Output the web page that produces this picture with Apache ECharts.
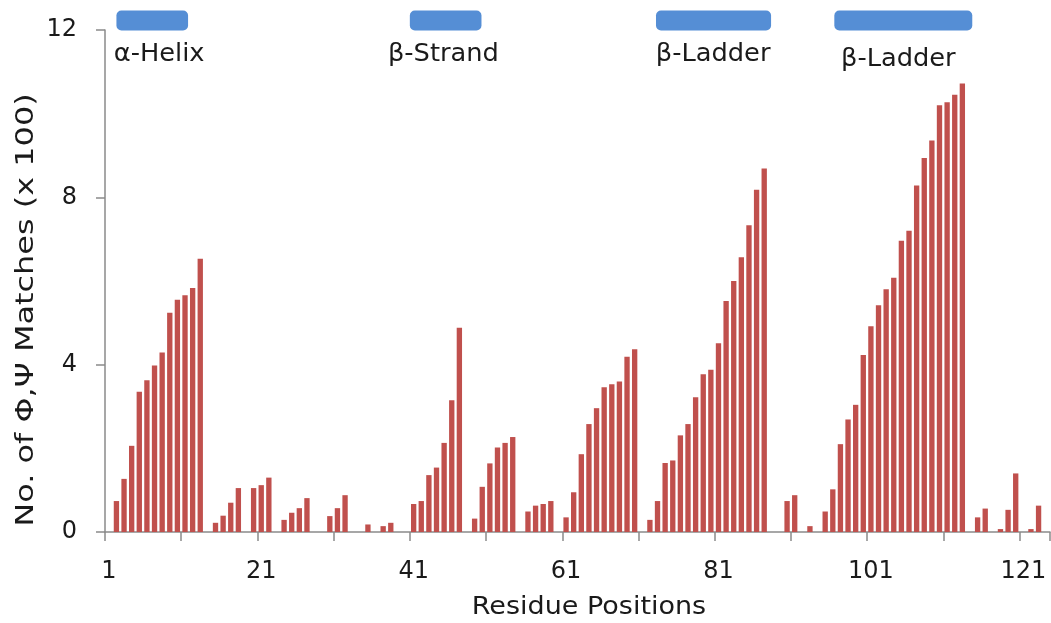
<!DOCTYPE html>
<html>
<head>
<meta charset="utf-8">
<script src="https://cdn.jsdelivr.net/npm/echarts@6/dist/echarts.min.js"></script>
<style>
html,body{margin:0;padding:0;background:#fff;}
#c{width:1051px;height:623px;}
</style>
</head>
<body>
<div id="c"></div>
<script>
// Residue positions 1..124 (category axis)
const residueCount = 124;
const residues = [];
for (let i = 1; i <= residueCount; i++) residues.push(String(i));

// No. of phi,psi matches (x 100), residues 1..124
const matches = [
  0, 0.74, 1.27, 2.06, 3.35, 3.63, 3.98, 4.29, 5.24, 5.55,
  5.66, 5.83, 6.53, 0, 0.22, 0.39, 0.70, 1.05, 0, 1.05,
  1.12, 1.30, 0, 0.29, 0.46, 0.57, 0.81, 0, 0, 0.38,
  0.57, 0.88, 0, 0, 0.18, 0, 0.14, 0.22, 0, 0,
  0.67, 0.74, 1.36, 1.54, 2.13, 3.15, 4.88, 0, 0.32, 1.08,
  1.64, 2.02, 2.13, 2.27, 0, 0.49, 0.63, 0.67, 0.74, 0,
  0.35, 0.95, 1.86, 2.58, 2.96, 3.46, 3.53, 3.60, 4.19, 4.37,
  0, 0.29, 0.74, 1.65, 1.71, 2.31, 2.58, 3.22, 3.77, 3.88,
  4.51, 5.52, 6.00, 6.57, 7.33, 8.18, 8.69, 0, 0, 0.74,
  0.88, 0, 0.14, 0, 0.49, 1.02, 2.10, 2.69, 3.04, 4.23,
  4.92, 5.42, 5.80, 6.08, 6.96, 7.20, 8.28, 8.94, 9.36, 10.20,
  10.27, 10.45, 10.72, 0, 0.35, 0.56, 0, 0.07, 0.53, 1.40,
  0, 0.07, 0.63, 0
];

// Y tick values
const yTicks = [0, 4, 8, 12];

// Secondary-structure annotations (residue spans, label centre residue)
const structNames = ['α-Helix', 'β-Strand', 'β-Ladder', 'β-Ladder'];
const structStart = [2.5, 41, 73.3, 96.7];
const structEnd = [11.9, 50.4, 88.4, 114.8];
const structLabelAt = [7.6, 44.9, 80.3, 104.6];

const FONT = 'DejaVu Sans';
const AXIS_COLOR = '#8a8a8a';
const TEXT_COLOR = '#1a1a1a';

const chart = echarts.init(document.getElementById('c'), null, {renderer: 'canvas'});

const option = {
  animation: false,
  backgroundColor: '#ffffff',
  grid: {left: 105, right: 1, top: 30, bottom: 91, containLabel: false},
  xAxis: {
    type: 'category',
    data: residues,
    boundaryGap: true,
    axisLine: {lineStyle: {color: AXIS_COLOR, width: 1.5}},
    axisTick: {show: true, interval: 9, length: 9, alignWithLabel: false, lineStyle: {color: AXIS_COLOR, width: 1.5}},
    axisLabel: {interval: 19, margin: 28, fontSize: 24, fontFamily: FONT, color: TEXT_COLOR},
    splitLine: {show: false}
  },
  yAxis: {
    type: 'value',
    min: yTicks[0],
    max: yTicks[yTicks.length - 1],
    interval: yTicks[1] - yTicks[0],
    axisLine: {show: true, lineStyle: {color: AXIS_COLOR, width: 1.5}},
    axisTick: {show: true, length: 9, lineStyle: {color: AXIS_COLOR, width: 1.5}},
    axisLabel: {margin: 28, fontSize: 24, fontFamily: FONT, color: TEXT_COLOR},
    splitLine: {show: false}
  },
  series: [{
    type: 'bar',
    data: matches,
    barWidth: '70%',
    itemStyle: {color: '#C0504D', borderWidth: 0}
  }]
};
chart.setOption(option);

function addDecorations() {
  const c0 = chart.convertToPixel({xAxisIndex: 0}, 0);
  const c1 = chart.convertToPixel({xAxisIndex: 0}, 1);
  const slot = c1 - c0;
  const bx = v => c0 - slot / 2 + (v - 1) * slot;
  const cx = v => c0 + (v - 1) * slot;
  const g = [];
  structNames.forEach((name, i) => {
    const x0 = bx(structStart[i]);
    const x1 = bx(structEnd[i]);
    g.push({
      type: 'rect',
      shape: {x: x0, y: 10.5, width: x1 - x0, height: 20, r: 5},
      style: {fill: '#558ED5'}
    });
    g.push({
      type: 'text',
      x: cx(structLabelAt[i]),
      y: i === 3 ? 60 : 55,
      scaleX: 1.07,
      style: {text: name, font: '24px "' + FONT + '"', fill: TEXT_COLOR, align: 'center', verticalAlign: 'middle'}
    });
  });
  g.push({
    type: 'text',
    x: 589, y: 607,
    scaleX: 1.08,
    style: {text: 'Residue Positions', font: '25px "' + FONT + '"', fill: TEXT_COLOR, align: 'center', verticalAlign: 'middle'}
  });
  g.push({
    type: 'text',
    x: 27, y: 310,
    rotation: Math.PI / 2,
    scaleX: 1.33,
    style: {text: 'No. of Φ,Ψ Matches (x 100)', font: '24px "' + FONT + '"', fill: TEXT_COLOR, align: 'center', verticalAlign: 'middle'}
  });
  chart.setOption({graphic: g});
}
addDecorations();
</script>
</body>
</html>
